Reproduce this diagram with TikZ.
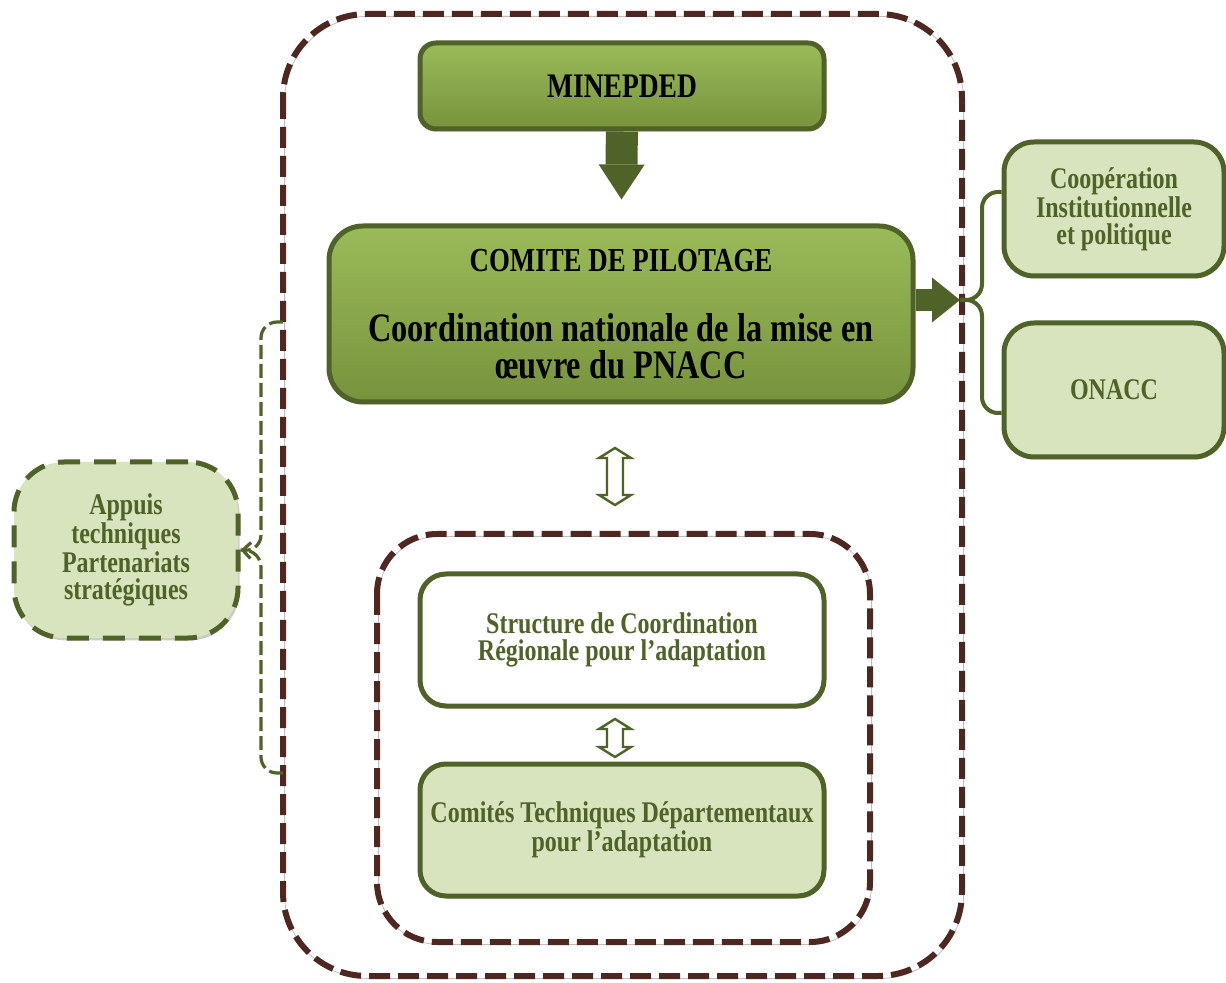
\documentclass[tikz,border=0pt]{standalone}
\usepackage{fontspec}
\setmainfont[FakeStretch=0.8]{Liberation Serif}
\usetikzlibrary{arrows.meta,shadows,calc}

\definecolor{pnaccolive}{HTML}{77933C}
\definecolor{pnacclight}{HTML}{9BBB59}
\definecolor{pnaccdark}{HTML}{4F6228}
\definecolor{pnaccpale}{HTML}{D7E4BD}
\definecolor{framebrown}{RGB}{78,40,32}

% hollow two-way arrow between two points (top, bottom)
\newcommand{\twoway}[2]{\draw[hollow] (#1) -- ++(16,10) -- ++(-8,0) -- ($(#2)+(8,-10)$) -- ++(8,0) -- (#2) -- ++(-16,-10) -- ++(8,0) -- ($(#1)+(-8,10)$) -- ++(-8,0) -- cycle;}

\begin{document}
\begin{tikzpicture}[x=0.5pt,y=-0.5pt]
\tikzstyle{shade}=[drop shadow={shadow xshift=0.8pt,shadow yshift=-1.2pt,fill=black!40}]
\tikzstyle{organ}=[draw=pnaccdark, line width=2.5pt, rounded corners=8pt, top color=pnacclight, middle color=pnaccolive, bottom color=pnaccolive, shade, align=center, font=\bfseries\fontsize{17.2}{17}\selectfont]
\tikzstyle{partner}=[draw=pnaccdark, line width=2.5pt, rounded corners=15pt, fill=pnaccpale, shade, align=center, text=pnaccdark, font=\bfseries\fontsize{15}{13.5}\selectfont, minimum width=110pt, minimum height=67pt]
\tikzstyle{frame}=[draw=framebrown, line width=3pt, dash pattern=on 10.5pt off 4pt, preaction={draw=black!25, transform canvas={shift={(0.8pt,-1.2pt)}}}]
\tikzstyle{blockarrow}=[draw=pnaccdark]
\tikzstyle{hollow}=[draw=pnaccdark, fill=white, line width=1.2pt, line join=miter]
\tikzstyle{rbrace}=[draw=pnaccdark, line width=2pt, rounded corners=8pt]
\tikzstyle{lbrace}=[draw=pnaccdark, line width=1.6pt, dash pattern=on 7pt off 2.5pt, rounded corners=8pt]

\path[use as bounding box, fill=white] (0,0) rectangle (1226,983);

% frames
\draw[frame, rounded corners=42pt] (283,14) rectangle (962,976);
\draw[frame, rounded corners=30pt] (377,534) rectangle (870,942);

% nodes
\draw (622,86) node[organ, minimum width=202pt, minimum height=43pt] (minepded) {MINEPDED};
\draw (621,314) node[organ, rounded corners=17pt, minimum width=292pt, minimum height=88pt, font=\bfseries\fontsize{20.2}{18.5}\selectfont] (comite) {{\fontsize{16.8}{17}\selectfont COMITE DE PILOTAGE}\\[16.5pt]Coordination nationale de la mise en\\œuvre du PNACC};
\draw (1114,209) node[partner] (coop) {Coopération\\Institutionnelle\\et politique};
\draw (1114,390) node[partner] (onacc) {ONACC};
\draw (622,640) node[partner, fill=white, rounded corners=13pt, minimum width=202pt, minimum height=66pt] (structure) {Structure de Coordination\\Régionale pour l’adaptation};
\draw (622,830) node[partner, rounded corners=13pt, minimum width=202pt, minimum height=66pt] (comites) {Comités Techniques Départementaux\\pour l’adaptation};
\draw (126,550) node[partner, rounded corners=25pt, dash pattern=on 11pt off 7pt, minimum width=112pt, minimum height=88pt, font=\bfseries\fontsize{15}{13.6}\selectfont] (appuis) {Appuis\\techniques\\Partenariats\\stratégiques};

% brace points
\coordinate (rtip) at (960,300);
\coordinate (rbtop) at (982,192);
\coordinate (rbbot) at (982,413);
\coordinate (lbtop) at (283,322);
\coordinate (lbbot) at (283,773);
\coordinate (lbmid) at (261,551);
\coordinate (h1a) at (615,448);
\coordinate (h1b) at (615,505);
\coordinate (h2a) at (615,719);
\coordinate (h2b) at (615,757);

% arrows
\draw[blockarrow, line width=16pt, shorten >=12pt, -{Triangle[length=17.5pt,width=23pt,line width=0pt]}] (minepded) -- (comite);
\draw[blockarrow, line width=11pt, -{Triangle[length=14pt,width=22.5pt,line width=0pt]}] ([yshift=7pt]comite.east) -- (rtip);
\draw[rbrace] (rtip) -| (rbtop) -- (coop.west |- rbtop);
\draw[rbrace] (rtip) -| (rbbot) -- (onacc.west |- rbbot);
\draw[lbrace, -{Straight Barb[length=4pt,width=8pt]}] (lbtop) -| (lbmid) -- (appuis.east);
\draw[lbrace] (lbbot) -| (lbmid) -- (appuis.east);
\twoway{h1a}{h1b}
\twoway{h2a}{h2b}
\end{tikzpicture}
\end{document}
